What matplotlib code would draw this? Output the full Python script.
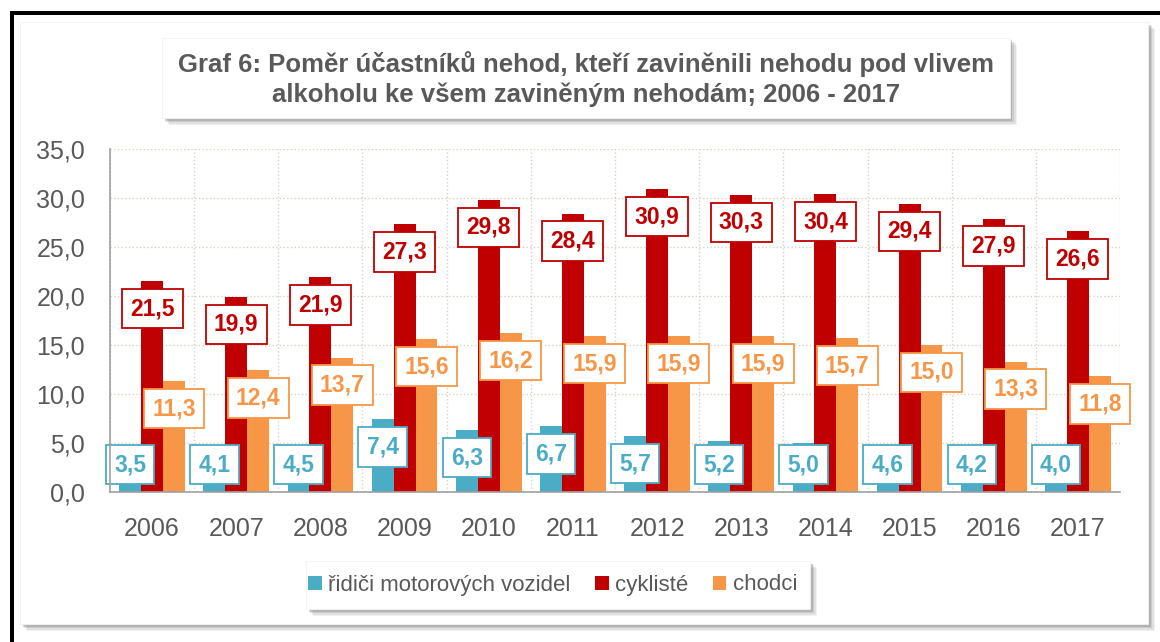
import numpy as np
import matplotlib.pyplot as plt
from matplotlib.patches import Rectangle

plt.rcParams['font.family'] = ['Liberation Sans', 'DejaVu Sans']

years = ['2006', '2007', '2008', '2009', '2010', '2011', '2012', '2013', '2014', '2015', '2016', '2017']
ridici = [3.5, 4.1, 4.5, 7.4, 6.3, 6.7, 5.7, 5.2, 5.0, 4.6, 4.2, 4.0]
cyklisti = [21.5, 19.9, 21.9, 27.3, 29.8, 28.4, 30.9, 30.3, 30.4, 29.4, 27.9, 26.6]
chodci = [11.3, 12.4, 13.7, 15.6, 16.2, 15.9, 15.9, 15.9, 15.7, 15.0, 13.3, 11.8]
series_names = ['řidiči motorových vozidel', 'cyklisté', 'chodci']
colors = ['#4bacc6', '#c00000', '#f79646']
title = 'Graf 6: Poměr účastníků nehod, kteří zaviněnili nehodu pod vlivem\nalkoholu ke všem zaviněným nehodám; 2006 - 2017'

W, H = 1160, 642
gray = '#595959'

fig = plt.figure(figsize=(W / 100, H / 100), dpi=100)


def box(x0, y0, x1, y1, **kw):
    # rectangle given in pixel coords from the top-left corner
    fig.patches.append(Rectangle((x0 / W, 1 - y1 / H), (x1 - x0) / W, (y1 - y0) / H,
                                 transform=fig.transFigure, **kw))


def shadowed(x0, y0, x1, y1, z):
    for i, a in enumerate([0.10, 0.15, 0.22, 0.30]):
        d = 7 - i * 1.5
        box(x0 + d, y0 + d, x1 + d, y1 + d, facecolor='#7f7f7f', alpha=a, lw=0, zorder=z)
    box(x0, y0, x1, y1, facecolor='white', edgecolor='#f2f2f2', lw=0.6, zorder=z + 0.5)


# outer black frame (left + top)
box(10, 11, 14, H + 5, facecolor='black', lw=0, zorder=0)
box(10, 11, W + 5, 15, facecolor='black', lw=0, zorder=0)

# chart panel, title box, legend box
shadowed(20, 22, 1148, 624, 1)
shadowed(162, 38, 1010, 118, 3)
shadowed(306, 561, 810, 609, 3)
fig.text(586 / W, 1 - 79 / H, title, ha='center', va='center', fontsize=18.5, fontweight='bold',
         color=gray, linespacing=1.25, zorder=10)

ax = fig.add_axes([110 / W, 1 - 492 / H, 1010 / W, 343 / H])
ax.set_facecolor('none')
ax.set_zorder(5)

x = np.arange(len(years))
bw = 0.26
offs = [-bw, 0, bw]
data = [ridici, cyklisti, chodci]
for vals, off, c, name in zip(data, offs, colors, series_names):
    ax.bar(x + off, vals, width=bw, color=c, label=name, zorder=3)

# value labels in white boxes
for vals, off, c, k in zip(data, offs, colors, range(3)):
    for xi, v in zip(x, vals):
        y = v - 2.8
        if k == 0:
            y = max(v - 2.8, 2.8)
        ax.text(xi + off, y, f'{v:.1f}'.replace('.', ','), ha='center', va='center',
                fontsize=16.5, fontweight='bold', color=c, zorder=6,
                bbox=dict(boxstyle='square,pad=0.36', facecolor='white', edgecolor=c, lw=1.3))

ax.set_xlim(-0.5, len(years) - 0.5)
ax.set_ylim(0, 35)
ax.set_yticks(np.arange(0, 36, 5))
ax.set_yticklabels([f'{t:.1f}'.replace('.', ',') for t in np.arange(0, 36, 5)])
ax.set_xticks(x)
ax.set_xticklabels(years)
ax.set_xticks(np.arange(-0.5, len(years)), minor=True)
ax.tick_params(axis='both', which='both', length=0, labelsize=18, labelcolor=gray)
ax.tick_params(axis='y', pad=18)
ax.tick_params(axis='x', pad=18)
ax.grid(axis='y', which='major', color='#d9d2bf', ls=':', lw=1.0, zorder=0)
ax.grid(axis='x', which='minor', color='#d9d2bf', ls=':', lw=1.0, zorder=0)
ax.grid(axis='x', which='major', visible=False)
for s in ['top', 'right']:
    ax.spines[s].set_visible(False)
for s in ['left', 'bottom']:
    ax.spines[s].set_color('#a0a0a0')
    ax.spines[s].set_linewidth(1.2)
    ax.spines[s].set_zorder(7)

leg = ax.legend(loc='center', bbox_to_anchor=(553 / W, 1 - 585 / H), bbox_transform=fig.transFigure,
                ncol=3, fontsize=16, frameon=False,
                handlelength=0.6, handleheight=0.6, handletextpad=0.3, columnspacing=1.1,
                labelcolor=gray)

fig.savefig('out.png', dpi=100)
